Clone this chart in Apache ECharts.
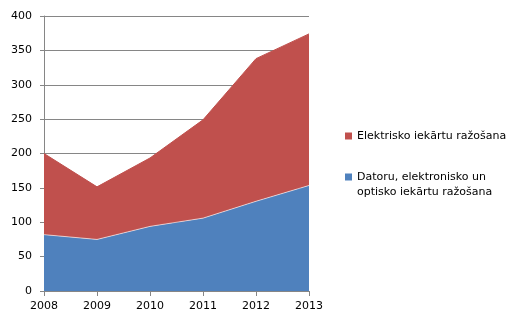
<!DOCTYPE html>
<html>
<head>
<meta charset="utf-8">
<script src="https://cdn.jsdelivr.net/npm/echarts@6/dist/echarts.min.js"></script>
<style>html,body{margin:0;padding:0;background:#fff}#c{width:527px;height:327px}</style>
</head>
<body>
<div id="c"></div>
<script>
const years = ['2008', '2009', '2010', '2011', '2012', '2013'];
const datoru = [82, 75, 94, 106, 130.5, 153.5];
const elektrisko = [118, 76.5, 99.5, 143, 207.5, 220.5];
const nameDatoru = 'Datoru, elektronisko un optisko iekārtu ražošana';
const nameElektrisko = 'Elektrisko iekārtu ražošana';

const chart = echarts.init(document.getElementById('c'), null, {renderer: 'canvas'});
const font = 'DejaVu Sans';
chart.setOption({
  animation: false,
  backgroundColor: '#ffffff',
  grid: {left: 44, right: 218, top: 16, bottom: 36},
  legend: {
    orient: 'vertical',
    left: 340,
    top: 123.5,
    itemWidth: 7,
    itemHeight: 7,
    itemGap: 11,
    icon: 'rect',
    data: [nameElektrisko, nameDatoru],
    formatter: function (n) {
      if (n === nameDatoru) return '\nDatoru, elektronisko un\noptisko iekārtu ražošana';
      return n;
    },
    textStyle: {fontFamily: font, fontSize: 11, color: '#000', lineHeight: 15}
  },
  xAxis: {
    type: 'category',
    data: years,
    boundaryGap: false,
    axisLine: {lineStyle: {color: '#868686'}},
    axisTick: {show: true, length: 5, lineStyle: {color: '#868686'}},
    axisLabel: {fontFamily: font, fontSize: 11, color: '#000', margin: 10}
  },
  yAxis: {
    type: 'value',
    min: 0, max: 400, interval: 50,
    axisLine: {show: true, lineStyle: {color: '#868686'}},
    axisTick: {show: true, length: 4, lineStyle: {color: '#868686'}},
    splitLine: {lineStyle: {color: '#868686'}},
    axisLabel: {fontFamily: font, fontSize: 11, color: '#000', margin: 12}
  },
  series: [
    {
      name: nameDatoru, type: 'line', stack: 't', data: datoru,
      symbol: 'none', itemStyle: {color: '#4F81BD'},
      lineStyle: {color: 'rgba(255,255,255,0.6)', width: 1},
      areaStyle: {color: '#4F81BD', opacity: 1}
    },
    {
      name: nameElektrisko, type: 'line', stack: 't', data: elektrisko,
      symbol: 'none', itemStyle: {color: '#C0504D'},
      lineStyle: {color: '#C0504D', width: 1},
      areaStyle: {color: '#C0504D', opacity: 1}
    }
  ]
});
</script>
</body>
</html>
